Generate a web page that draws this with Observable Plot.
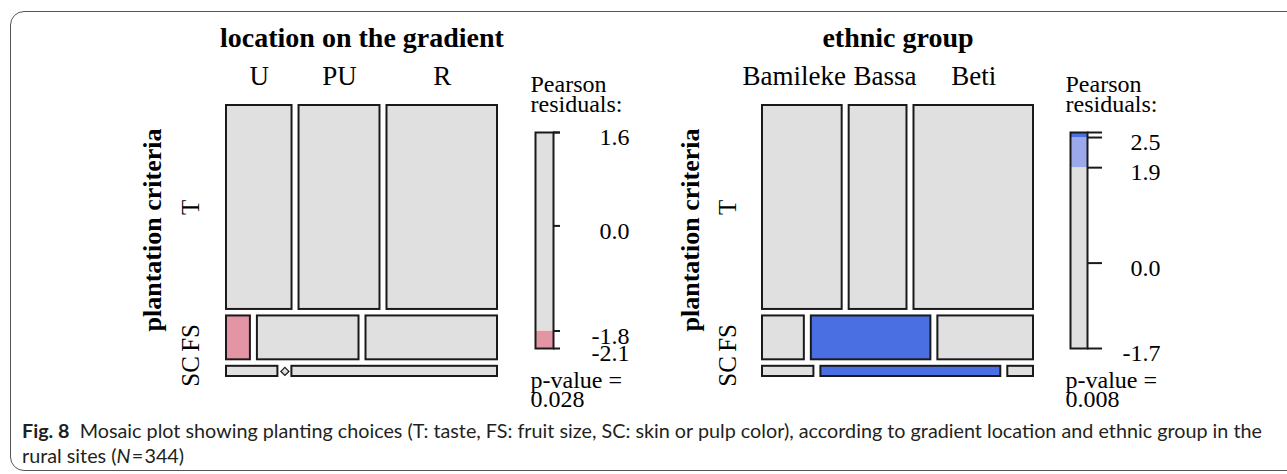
<!DOCTYPE html>
<html>
<head>
<meta charset="utf-8">
<script src="https://cdn.jsdelivr.net/npm/d3@7"></script>
<script src="https://cdn.jsdelivr.net/npm/@observablehq/plot@0.6"></script>
<style>
  html, body { margin: 0; padding: 0; background: #fff; }
  #page { position: relative; width: 1287px; height: 474px; overflow: hidden; background: #fff; }
  #frame { position: absolute; left: 10px; top: 11px; width: 1320px; height: 460px; border: 1.5px solid #555; border-radius: 14px; box-sizing: border-box; }
  .panel { position: absolute; }
  #caption { position: absolute; left: 22px; top: 418px; font-family: Lato, "Open Sans", sans-serif; font-size: 19px; color: #231f20; line-height: 25px; white-space: nowrap; transform-origin: 0 0; }
  #caption div { display: block; }
</style>
</head>
<body>
<div id="page">
  <div id="frame"></div>
  <div class="panel" id="mosaicLeft" style="left:0px;top:0px"></div>
  <div class="panel" id="legendLeft" style="left:520px;top:60px"></div>
  <div class="panel" id="mosaicRight" style="left:536px;top:0px"></div>
  <div class="panel" id="legendRight" style="left:1055px;top:60px"></div>
  <div id="caption">
    <div id="capLine1"><b>Fig. 8</b>&nbsp;&nbsp;Mosaic plot showing planting choices (T: taste, FS: fruit size, SC: skin or pulp color), according to gradient location and ethnic group in the</div>
    <div id="capLine2">rural sites (<i>N</i>&#8202;=&#8202;344)</div>
  </div>
</div>
<script>
// ---------------- data ----------------
const criteria = ["T", "FS", "SC"];

const locations = ["U", "PU", "R"];
const locationCounts = [      // rows: T, FS, SC ; cols: U, PU, R
  [51, 63, 86],
  [4, 17, 22],
  [2, 0, 8]
];
const locationShades = [
  ["none", "none", "none"],
  ["neg", "none", "none"],
  ["none", "none", "none"]
];

const ethnicGroups = ["Bamileke", "Bassa", "Beti"];
const ethnicCounts = [        // rows: T, FS, SC ; cols: Bamileke, Bassa, Beti
  [62, 45, 93],
  [7, 20, 16],
  [2, 7, 1]
];
const ethnicShades = [
  ["none", "none", "none"],
  ["none", "pos", "none"],
  ["none", "pos", "none"]
];

const locationLegendDomain = [-2.1, 1.6];
const locationLegendTicks = [1.6, 0.0, -1.8, -2.1];
const locationLegendBins = [
  {from: -2.1, to: -1.8, shade: "neg"},
  {from: -1.8, to: 1.6, shade: "none"}
];
const locationPValue = "0.028";

const ethnicLegendDomain = [-1.7, 2.6];
const ethnicLegendTicks = [2.5, 1.9, 0.0, -1.7];
const ethnicLegendBins = [
  {from: -1.7, to: 1.9, shade: "none"},
  {from: 1.9, to: 2.5, shade: "posLight"},
  {from: 2.5, to: 2.6, shade: "pos"}
];
const ethnicPValue = "0.008";

// ---------------- styling ----------------
const shadeColors = {none: "#e0e0e0", neg: "#e495a5", pos: "#4a6fe3", posLight: "#9ba8ea"};
const serif = "'Liberation Serif', 'Times New Roman', serif";
const ink = "#1a1a1a";

function mosaicChart({title, cols, counts, shades, labelNudge, rowDx, titleDx}) {
  const W = 520, H = 410, ml = 226, mt = 105, mb = 34, fw = 271;
  const mr = W - ml - fw, fh = H - mt - mb;
  const gx = 7 / fw, gy = 6.5 / fh;
  const rowTot = counts.map(r => d3.sum(r));
  const N = d3.sum(rowTot);
  const availY = 1 - gy * (criteria.length - 1);
  const availX = 1 - gx * (cols.length - 1);
  const cells = [], rows = [];
  let y = 0;
  criteria.forEach((r, i) => {
    const h = rowTot[i] / N * availY;
    rows.push({label: r, y: y + h / 2});
    let x = 0;
    cols.forEach((c, j) => {
      const w = counts[i][j] / rowTot[i] * availX;
      cells.push({row: r, col: c, j, n: counts[i][j], shade: shades[i][j], x1: x, x2: x + w, y1: y, y2: y + h});
      x += w + gx;
    });
    y += h + gy;
  });
  const header = cells.filter(d => d.row === criteria[0]);
  return Plot.plot({
    width: W, height: H,
    marginLeft: ml, marginRight: mr, marginTop: mt, marginBottom: mb,
    x: {domain: [0, 1], axis: null},
    y: {domain: [0, 1], reverse: true, axis: null},
    color: {type: "identity"},
    style: {background: "transparent", overflow: "visible", fontFamily: serif, color: "#000"},
    marks: [
      Plot.rect(cells.filter(d => d.n > 0), {
        x1: "x1", x2: "x2", y1: "y1", y2: "y2",
        fill: d => shadeColors[d.shade], stroke: ink, strokeWidth: 2
      }),
      Plot.dot(cells.filter(d => d.n === 0), {
        x: "x1", y: d => (d.y1 + d.y2) / 2, symbol: "diamond2", r: 3.6,
        fill: shadeColors.none, stroke: ink, strokeWidth: 1.3
      }),
      Plot.text([title], {frameAnchor: "top", lineAnchor: "middle", dy: -67, fontSize: 28, fontWeight: "bold", fill: "#000"}),
      Plot.text(header, {
        x: d => (d.x1 + d.x2) / 2 + (labelNudge[d.j] || 0) / fw,
        text: "col", frameAnchor: "top", lineAnchor: "middle", dy: -29, fontSize: 27, fill: "#000"
      }),
      Plot.text(rows, {y: "y", text: "label", frameAnchor: "left", textAnchor: "middle", lineAnchor: "middle", dx: rowDx, rotate: -90, fontSize: 25, fill: "#000"}),
      Plot.text(["plantation criteria"], {frameAnchor: "left", textAnchor: "middle", lineAnchor: "middle", dx: titleDx, dy: -11, rotate: -90, fontSize: 26, fontWeight: "bold", fill: "#000"})
    ]
  });
}

function legendChart({domain, ticks, bins, pValue, barW, tickLen, labelDx}) {
  const W = 130, H = 360, ml = 15, mt = 72, mb = 72;
  return Plot.plot({
    width: W, height: H,
    marginLeft: ml, marginRight: W - ml - barW, marginTop: mt, marginBottom: mb,
    x: {domain: [0, 1], axis: null},
    y: {domain, axis: null},
    color: {type: "identity"},
    style: {background: "transparent", overflow: "visible", fontFamily: serif, color: "#000"},
    marks: [
      Plot.rect(bins, {x1: 0, x2: 1, y1: "from", y2: "to", fill: d => shadeColors[d.shade]}),
      Plot.frame({stroke: ink, strokeWidth: 2}),
      Plot.ruleY([domain[1], ...ticks], {x1: 1, x2: 1 + tickLen / barW, stroke: ink, strokeWidth: 2}),
      Plot.text(ticks, {y: d => d, x: 1, dx: labelDx, dy: 5, textAnchor: "end", lineAnchor: "middle", text: d => d.toFixed(1), fontSize: 24, fill: "#000"}),
      Plot.text(["Pearson\nresiduals:"], {frameAnchor: "top-left", textAnchor: "start", lineAnchor: "middle", dx: -5, dy: -37, lineHeight: 0.85, fontSize: 24, fill: "#000"}),
      Plot.text(["p-value =\n" + pValue], {frameAnchor: "bottom-left", textAnchor: "start", lineAnchor: "middle", dx: -5, dy: 43, lineHeight: 0.8, fontSize: 24, fill: "#000"})
    ]
  });
}

document.getElementById("mosaicLeft").append(mosaicChart({
  title: "location on the gradient", cols: locations, counts: locationCounts, shades: locationShades,
  labelNudge: [0, 0, 0], rowDx: -36, titleDx: -74
}));
document.getElementById("mosaicRight").append(mosaicChart({
  title: "ethnic group", cols: ethnicGroups, counts: ethnicCounts, shades: ethnicShades,
  labelNudge: [-8, 7, 0], rowDx: -35, titleDx: -72
}));
document.getElementById("legendLeft").append(legendChart({
  domain: locationLegendDomain, ticks: locationLegendTicks, bins: locationLegendBins,
  pValue: locationPValue, barW: 18, tickLen: 7, labelDx: 76
}));
document.getElementById("legendRight").append(legendChart({
  domain: ethnicLegendDomain, ticks: ethnicLegendTicks, bins: ethnicLegendBins,
  pValue: ethnicPValue, barW: 17, tickLen: 15, labelDx: 73
}));

// fit caption to the reference line width
const cap = document.getElementById("caption");
const line1 = document.getElementById("capLine1");
const range = document.createRange();
range.selectNodeContents(line1);
const textW = range.getBoundingClientRect().width;
if (textW > 0) cap.style.transform = `scaleX(${1240 / textW})`;
</script>
</body>
</html>
